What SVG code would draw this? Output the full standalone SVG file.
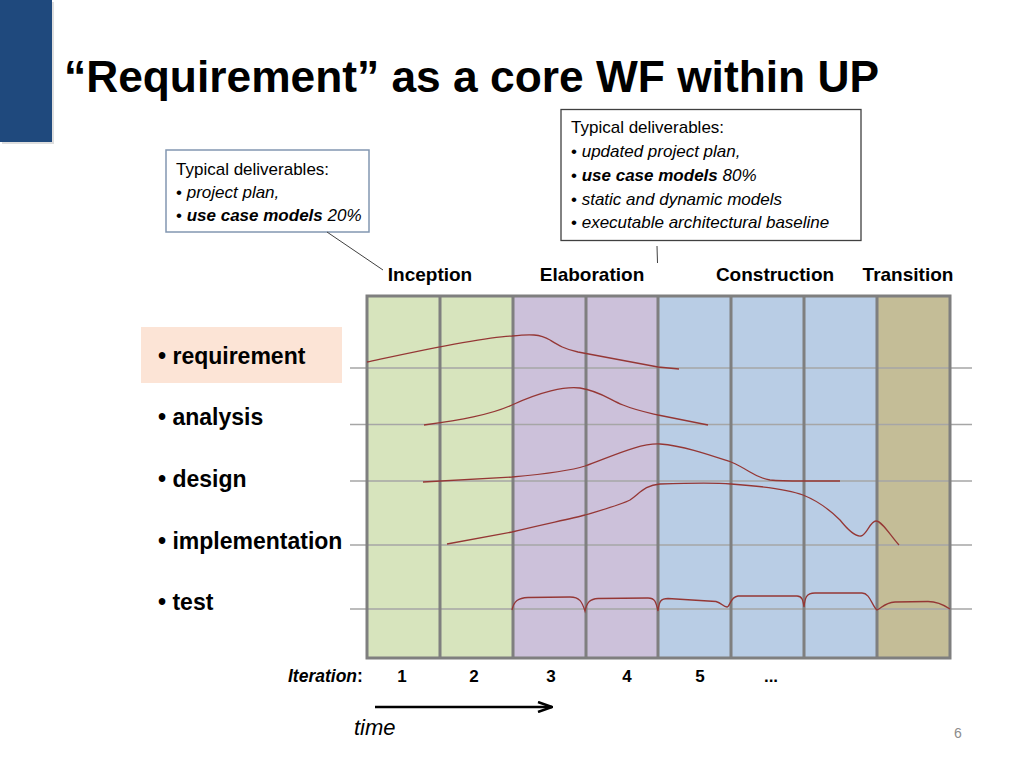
<svg xmlns="http://www.w3.org/2000/svg" width="1024" height="768" viewBox="0 0 1024 768">
<style>
text{font-family:"Liberation Sans",Arial,sans-serif;fill:#000}
.title{font-size:44px;font-weight:bold}
.box{font-size:17px}
.it{font-style:italic}
.b{font-weight:bold}
.phase{font-size:19px;font-weight:bold;text-anchor:middle}
.wf{font-size:23px;font-weight:bold}
.num{font-size:17px;font-weight:bold;text-anchor:middle}
.curve{fill:none;stroke:#953735;stroke-width:1.3}
.hline{stroke:#a6a6a6;stroke-width:1.5}
.col{stroke:#7f7f7f;stroke-width:3}
.conn{stroke:#404040;stroke-width:1;fill:none}
</style>
<defs>
<marker id="chev" viewBox="0 0 16 12" refX="15" refY="6" markerWidth="16" markerHeight="12" markerUnits="userSpaceOnUse" orient="auto">
<polyline points="1,1 15,6 1,11" fill="none" stroke="#000" stroke-width="2.5"/>
</marker>
</defs>
<rect width="1024" height="768" fill="#fff"/>
<g id="sidebar">
<rect x="2" y="2" width="52" height="142" fill="#c8c8c8" opacity="0.6"/>
<rect x="0" y="0" width="52" height="142" fill="#1f497d"/>
</g>
<g id="title"><text class="title" x="64" y="92" textLength="815" lengthAdjust="spacingAndGlyphs">“Requirement” as a core WF within UP</text></g>

<g id="box-inception">
<rect x="166" y="150" width="203" height="82" fill="#fff" stroke="#8297b1" stroke-width="1.5"/>
<text class="box" x="176" y="175">Typical deliverables:</text>
<text class="box" x="176" y="198">• <tspan class="it">project plan,</tspan></text>
<text class="box" x="176" y="221">• <tspan class="it b">use case models</tspan><tspan class="it"> 20%</tspan></text>
</g>
<g id="box-elaboration">
<rect x="561" y="109.5" width="300" height="131" fill="#fff" stroke="#404040" stroke-width="1.3"/>
<text class="box" x="571" y="133">Typical deliverables:</text>
<text class="box" x="571" y="157">• <tspan class="it">updated project plan,</tspan></text>
<text class="box" x="571" y="181">• <tspan class="it b">use case models</tspan><tspan class="it"> 80%</tspan></text>
<text class="box" x="571" y="205">• <tspan class="it">static and dynamic models</tspan></text>
<text class="box" x="571" y="228">• <tspan class="it">executable architectural baseline</tspan></text>
</g>

<g id="phases">
<text class="phase" x="430" y="281">Inception</text>
<text class="phase" x="592" y="281">Elaboration</text>
<text class="phase" x="775" y="281">Construction</text>
<text class="phase" x="908" y="281">Transition</text>
</g>

<g id="grid">
<rect x="367" y="296" width="146" height="362" fill="#d7e4bd"/>
<rect x="513" y="296" width="145" height="362" fill="#ccc1da"/>
<rect x="658" y="296" width="219" height="362" fill="#b9cde5"/>
<rect x="877" y="296" width="73" height="362" fill="#c4bd97"/>
<line class="hline" x1="350" y1="368" x2="972" y2="368"/>
<line class="hline" x1="350" y1="424.5" x2="972" y2="424.5"/>
<line class="hline" x1="350" y1="481" x2="972" y2="481"/>
<line class="hline" x1="350" y1="545" x2="972" y2="545"/>
<line class="hline" x1="350" y1="609" x2="972" y2="609"/>
<rect x="367" y="296" width="583" height="362" fill="none" class="col"/>
<line class="col" x1="440" y1="296" x2="440" y2="658"/>
<line class="col" x1="513" y1="296" x2="513" y2="658"/>
<line class="col" x1="586" y1="296" x2="586" y2="658"/>
<line class="col" x1="658" y1="296" x2="658" y2="658"/>
<line class="col" x1="731" y1="296" x2="731" y2="658"/>
<line class="col" x1="804" y1="296" x2="804" y2="658"/>
<line class="col" x1="877" y1="296" x2="877" y2="658"/>
</g>

<g id="workflows">
<g id="wf-requirement">
<rect x="141" y="327" width="201" height="56" fill="#fce4d6"/>
<text class="wf" x="158" y="364">• requirement</text>
<path class="curve" d="M367,362 C400,355 480,337 512,336 C530,334 540,334 550,340 C558,345 564,349 578,352 L658,367 L679,369"/>
</g>
<g id="wf-analysis">
<text class="wf" x="158" y="425">• analysis</text>
<path class="curve" d="M424,425 C460,420 490,415 512,405 C540,392 565,386 580,388 C600,391 610,400 623,405 C635,410 645,412 658,415 L708,425"/>
</g>
<g id="wf-design">
<text class="wf" x="158" y="487">• design</text>
<path class="curve" d="M423,482 L512,477 C545,474 570,471 585,466 C615,455 640,443 660,444 C685,446 710,455 731,462 C750,470 755,478 770,480 C780,481 790,481 803,481 L840,481"/>
</g>
<g id="wf-implementation">
<text class="wf" x="158" y="549">• implementation</text>
<path class="curve" d="M447,544 L512,532 C540,525 570,519 585,515 C605,509 620,505 630,500 C640,493 645,485 660,484 C690,483 720,483 731,484 C760,486 790,490 803,495 C818,501 830,510 840,520 C848,530 855,537 861,536 C867,535 870,521 876,521 C882,521 890,535 899,545"/>
</g>
<g id="wf-test">
<text class="wf" x="158" y="610">• test</text>
<path class="curve" d="M512,610 C514,601 518,598 528,597.5 L570,597 C580,597 582,602 585,611 C587,602 590,599 598,598.5 L648,598 C655,598 656,602 658,611 C659,601 661,598.5 668,598.5 L716,601.5 C722,603 723,607 727,607 C730,607 730,597 738,596 L797,596 C802,596 803,600 804,607 C805,598 806,593 815,593 L862,593 C870,593 872,606 877,610 C882,608 884,603 895,602 L928,601.5 C938,601.5 944,605 950,609"/>
</g>
</g>

<g id="connectors">
<line class="conn" x1="327" y1="232" x2="383" y2="270"/>
<line class="conn" x1="657" y1="246" x2="657.5" y2="263"/>
<line x1="375" y1="707" x2="552" y2="707" stroke="#000" stroke-width="2.5" marker-end="url(#chev)"/>
</g>

<g id="iterations">
<text x="288" y="682" style="font-size:17.5px;font-weight:bold"><tspan class="it">Iteration</tspan>:</text>
<text class="num" x="402" y="682">1</text>
<text class="num" x="474" y="682">2</text>
<text class="num" x="551" y="682">3</text>
<text class="num" x="627" y="682">4</text>
<text class="num" x="700" y="682">5</text>
<text class="num" x="771" y="682">...</text>
</g>
<g id="time"><text x="354" y="735" style="font-size:22px;font-style:italic">time</text></g>
<g id="page"><text x="958" y="738" style="font-size:14px;fill:#8c8c8c;text-anchor:middle">6</text></g>
</svg>
